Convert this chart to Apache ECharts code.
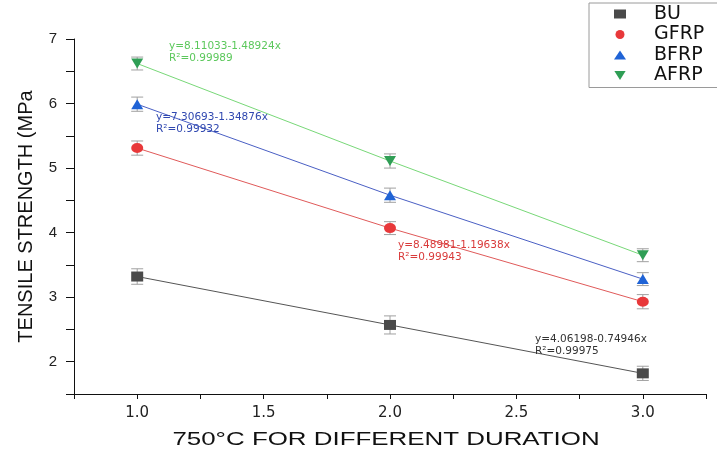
<!DOCTYPE html>
<html>
<head>
<meta charset="utf-8">
<script src="https://cdn.jsdelivr.net/npm/echarts@6/dist/echarts.min.js"></script>
<style>html,body{margin:0;padding:0;background:#fff;}#c{width:717px;height:454px;}</style>
</head>
<body>
<div id="c"></div>
<script>
// ---- data ----
const durations = [1.0, 2.0, 3.0];
const seriesNames = ['BU', 'GFRP', 'BFRP', 'AFRP'];
const buValues = [3.32, 2.57, 1.82];
const gfrpValues = [5.31, 4.07, 2.93];
const bfrpValues = [5.99, 4.58, 3.28];
const afrpValues = [6.62, 5.11, 3.65];
const buErr = [0.12, 0.14, 0.11];
const gfrpErr = [0.11, 0.1, 0.11];
const bfrpErr = [0.11, 0.11, 0.1];
const afrpErr = [0.1, 0.11, 0.1];
const fitEquations = ['y=4.06198-0.74946x', 'y=8.48981-1.19638x', 'y=7.30693-1.34876x', 'y=8.11033-1.48924x'];
const fitR2 = ['R\u00b2=0.99975', 'R\u00b2=0.99943', 'R\u00b2=0.99932', 'R\u00b2=0.99989'];
const yTitle = 'TENSILE STRENGTH (MPa';
const xTitle = '750\u00b0C FOR DIFFERENT DURATION';

const allValues = [buValues, gfrpValues, bfrpValues, afrpValues];
const allErr = [buErr, gfrpErr, bfrpErr, afrpErr];
const markerColors = ['#4a4a4a', '#e8383a', '#1f63d6', '#2f9e55'];
const lineColors = ['#555555', '#e05a5a', '#4a5fc4', '#78d878'];
const textColors = ['#333333', '#d93a3a', '#3048b0', '#5cc85c'];
const symbols = ['rect', 'circle', 'triangle', 'path://M0,0 L10,0 L5,8 Z'];
const textPos = [[535, 339], [398, 245], [156, 117], [169, 46]];

const chart = echarts.init(document.getElementById('c'), null, {renderer: 'canvas'});

const series = [];
seriesNames.forEach((name, i) => {
  series.push({
    name: name + ' err',
    type: 'custom',
    z: 1,
    silent: true,
    encode: {x: 0, y: [1, 2]},
    data: durations.map((d, j) => [d, allValues[i][j] - allErr[i][j], allValues[i][j] + allErr[i][j]]),
    renderItem: function (params, api) {
      const lo = api.coord([api.value(0), api.value(1)]);
      const hi = api.coord([api.value(0), api.value(2)]);
      const hw = 6;
      const st = {stroke: '#a0a0a0', lineWidth: 1};
      return {
        type: 'group',
        children: [
          {type: 'line', shape: {x1: lo[0], y1: lo[1], x2: hi[0], y2: hi[1]}, style: st},
          {type: 'line', shape: {x1: lo[0] - hw, y1: lo[1], x2: lo[0] + hw, y2: lo[1]}, style: st},
          {type: 'line', shape: {x1: hi[0] - hw, y1: hi[1], x2: hi[0] + hw, y2: hi[1]}, style: st}
        ]
      };
    }
  });
});
seriesNames.forEach((name, i) => {
  series.push({
    name: name,
    type: 'line',
    z: 3,
    data: durations.map((d, j) => [d, allValues[i][j]]),
    symbol: symbols[i],
    symbolSize: [12, 10],
    symbolKeepAspect: false,
    showSymbol: true,
    itemStyle: {color: markerColors[i]},
    lineStyle: {color: lineColors[i], width: 1},
    emphasis: {disabled: true},
    animation: false
  });
});

const graphics = [];
seriesNames.forEach((name, i) => {
  graphics.push({
    type: 'text',
    x: textPos[i][0],
    y: textPos[i][1] - 6,
    z: 10,
    style: {text: fitEquations[i] + '\n' + fitR2[i], font: '10.5px "DejaVu Sans"', fill: textColors[i], lineHeight: 12, verticalAlign: 'top', align: 'left'}
  });
});
graphics.push({
  type: 'text',
  x: 386, y: 440,
  scaleX: 1.4,
  style: {text: xTitle, font: '18.5px "Liberation Sans"', fill: '#111', align: 'center', verticalAlign: 'middle'}
});

chart.setOption({
  animation: false,
  backgroundColor: '#ffffff',
  grid: {left: 74, right: 11, top: 39, bottom: 60, containLabel: false},
  legend: {
    data: seriesNames.map((n, i) => ({name: n, icon: symbols[i]})),
    orient: 'vertical',
    left: 589, top: 3,
    padding: [1, 40, 2, 25],
    itemGap: 0.5,
    itemWidth: 12, itemHeight: 9,
    borderColor: '#9a9a9a', borderWidth: 1,
    backgroundColor: '#ffffff',
    textStyle: {fontFamily: 'DejaVu Sans', fontSize: 19, lineHeight: 20, color: '#111', padding: [0, 0, 0, 23]},
    selectedMode: false
  },
  xAxis: {
    type: 'value',
    min: 0.75, max: 3.25, interval: 0.25,
    splitLine: {show: false},
    axisLine: {lineStyle: {color: '#111', width: 1}},
    axisTick: {show: true, length: 5, lineStyle: {color: '#111'}},
    axisLabel: {
      margin: 12, color: '#222', fontFamily: 'DejaVu Sans', fontSize: 15,
      formatter: function (v) {
        const h = v * 2;
        if (Math.abs(h - Math.round(h)) < 1e-6 && v >= 0.99 && v <= 3.01) return v.toFixed(1);
        return '';
      }
    }
  },
  yAxis: {
    type: 'value',
    min: 1.5, max: 7, interval: 0.5,
    splitLine: {show: false},
    axisLine: {show: true, lineStyle: {color: '#111', width: 1}},
    axisTick: {show: true, length: 8, lineStyle: {color: '#111'}},
    axisLabel: {
      margin: 17, color: '#222', fontFamily: 'Liberation Sans', fontSize: 15,
      formatter: function (v) {
        if (Math.abs(v - Math.round(v)) < 1e-6 && v >= 2) return String(Math.round(v));
        return '';
      }
    },
    name: yTitle,
    nameLocation: 'middle',
    nameGap: 38,
    nameTextStyle: {fontFamily: 'Liberation Sans', fontSize: 20, color: '#111'}
  },
  series: series,
  graphic: graphics
});
</script>
</body>
</html>
